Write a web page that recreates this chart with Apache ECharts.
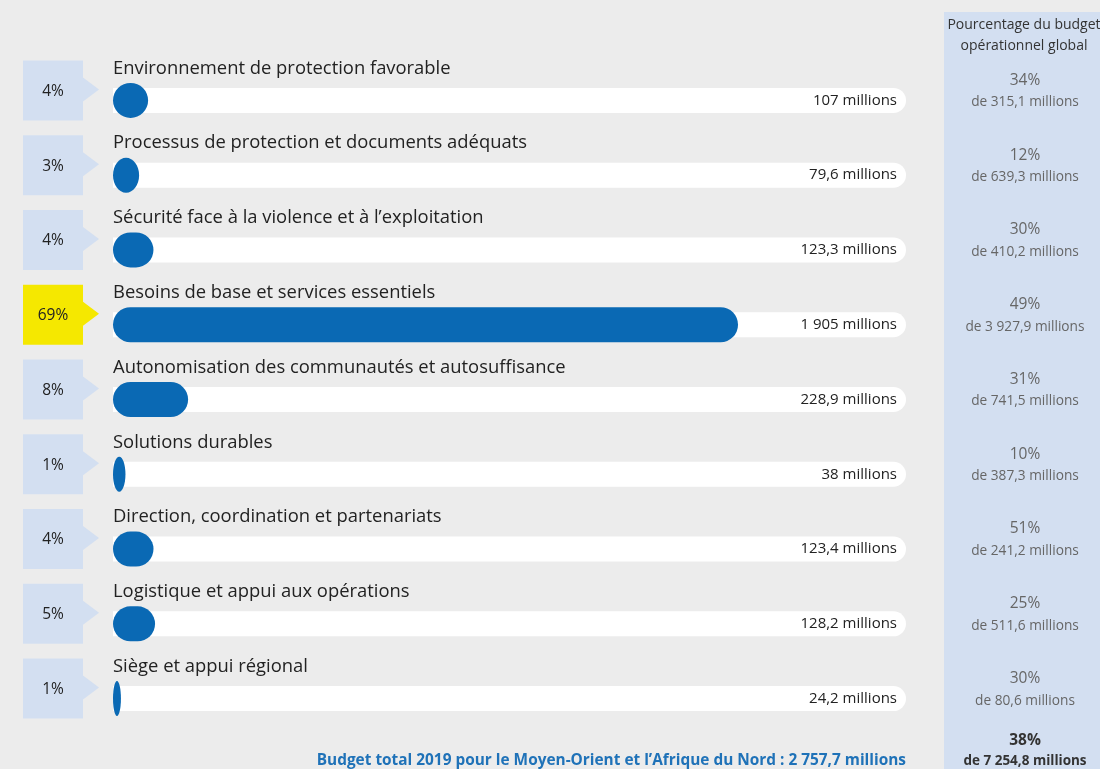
<!DOCTYPE html>
<html><head><meta charset="utf-8">
<script src="https://cdn.jsdelivr.net/npm/echarts@6/dist/echarts.min.js"></script>
<style>html,body{margin:0;padding:0;background:#ececec}#c{width:1100px;height:769px}</style>
</head><body><div id="c"></div>
<script>
const categories = [
  "Environnement de protection favorable",
  "Processus de protection et documents adéquats",
  "Sécurité face à la violence et à l’exploitation",
  "Besoins de base et services essentiels",
  "Autonomisation des communautés et autosuffisance",
  "Solutions durables",
  "Direction, coordination et partenariats",
  "Logistique et appui aux opérations",
  "Siège et appui régional"
];
const values = [107, 79.6, 123.3, 1905, 228.9, 38, 123.4, 128.2, 24.2];
const valueLabels = ["107 millions","79,6 millions","123,3 millions","1 905 millions","228,9 millions","38 millions","123,4 millions","128,2 millions","24,2 millions"];
const shareLabels = ["4%","3%","4%","69%","8%","1%","4%","5%","1%"];
const globalPct = ["34%","12%","30%","49%","31%","10%","51%","25%","30%"];
const globalBudget = ["de 315,1 millions","de 639,3 millions","de 410,2 millions","de 3 927,9 millions","de 741,5 millions","de 387,3 millions","de 241,2 millions","de 511,6 millions","de 80,6 millions"];
const highlightIndex = 3;
const trackMax = 2417;
const totalLabel = "Budget total 2019 pour le Moyen-Orient et l’Afrique du Nord : 2 757,7 millions";
const totalPct = "38%";
const totalBudget = "de 7 254,8 millions";
const panelTitle = "Pourcentage du budget\nopérationnel global";

const FONT = "'Open Sans', sans-serif";
const chart = echarts.init(document.getElementById('c'));
chart.setOption({
  backgroundColor: '#ececec',
  animation: false,
  graphic: [
    {type:'rect', z:-10, shape:{x:944,y:12,width:200,height:800}, style:{fill:'#d3dff1'}},
    {type:'text', style:{x:1024,y:36,text:panelTitle,align:'center',verticalAlign:'middle',fill:'#333',font:'14px '+FONT,lineHeight:21}},
    {type:'text', style:{x:1025,y:741,text:totalPct,align:'center',verticalAlign:'middle',fill:'#333',font:'bold 15.5px '+FONT}},
    {type:'text', style:{x:1025,y:761,text:totalBudget,align:'center',verticalAlign:'middle',fill:'#333',font:'bold 13.5px '+FONT}},
    {type:'text', style:{x:906,y:761,text:totalLabel,align:'right',verticalAlign:'middle',fill:'#1f72b8',font:'bold 15.4px '+FONT}}
  ],
  grid: {left:113, top:63, width:793, height:673},
  xAxis: {type:'value', min:0, max:trackMax, show:false},
  yAxis: [
    {type:'category', data:categories, inverse:true, show:false}
  ],
  series: [
    {
      type:'bar', barWidth:25, z:1,
      data: categories.map(() => trackMax),
      itemStyle:{color:'#ffffff', borderRadius:[0,12.5,12.5,0]},
      label:{show:true, position:'insideRight', distance:9, color:'#222', fontSize:15, fontFamily:FONT,
        formatter: p => valueLabels[p.dataIndex]},
      silent:true
    },
    {
      type:'custom', z:2,
      data: values.map((v,i) => [v, i]),
      renderItem: function(params, api){
        const v = api.value(0), i = api.value(1);
        const p0 = api.coord([0, i]);
        const p1 = api.coord([v, i]);
        const h = 35, w = p1[0] - p0[0], yc = p0[1];
        const bar = w < h
          ? {type:'ellipse', shape:{cx:p0[0]+w/2, cy:yc, rx:w/2, ry:h/2}, style:{fill:'#0a69b4'}}
          : {type:'rect', shape:{x:p0[0], y:yc-h/2, width:w, height:h, r:h/2}, style:{fill:'#0a69b4'}};
        return {type:'group', children:[
          bar,
          {type:'text', style:{x:p0[0], y:yc-32, text:categories[i], align:'left', verticalAlign:'middle', fill:'#222', font:'18.4px '+FONT}}
        ]};
      }
    },
    {
      type:'custom', z:3,
      data: categories.map((c,i) => [0, i]),
      renderItem: function(params, api){
        const i = api.value(1);
        const yc = api.coord([0, i])[1];
        const cy = yc - 10;
        const fill = i === highlightIndex ? '#f5e800' : '#d3dff1';
        return {type:'group', children:[
          {type:'polygon', shape:{points:[[23,cy-30],[83,cy-30],[83,cy-13],[99,cy-1],[83,cy+11],[83,cy+30],[23,cy+30]]}, style:{fill:fill}},
          {type:'text', style:{x:53,y:cy+1,text:shareLabels[i],align:'center',verticalAlign:'middle',fill:'#222',font:'15.5px '+FONT}},
          {type:'text', style:{x:1025,y:yc-20,text:globalPct[i],align:'center',verticalAlign:'middle',fill:'#666',font:'15.5px '+FONT}},
          {type:'text', style:{x:1025,y:yc+2,text:globalBudget[i],align:'center',verticalAlign:'middle',fill:'#666',font:'13.7px '+FONT}}
        ]};
      }
    }
  ]
});
</script></body></html>
